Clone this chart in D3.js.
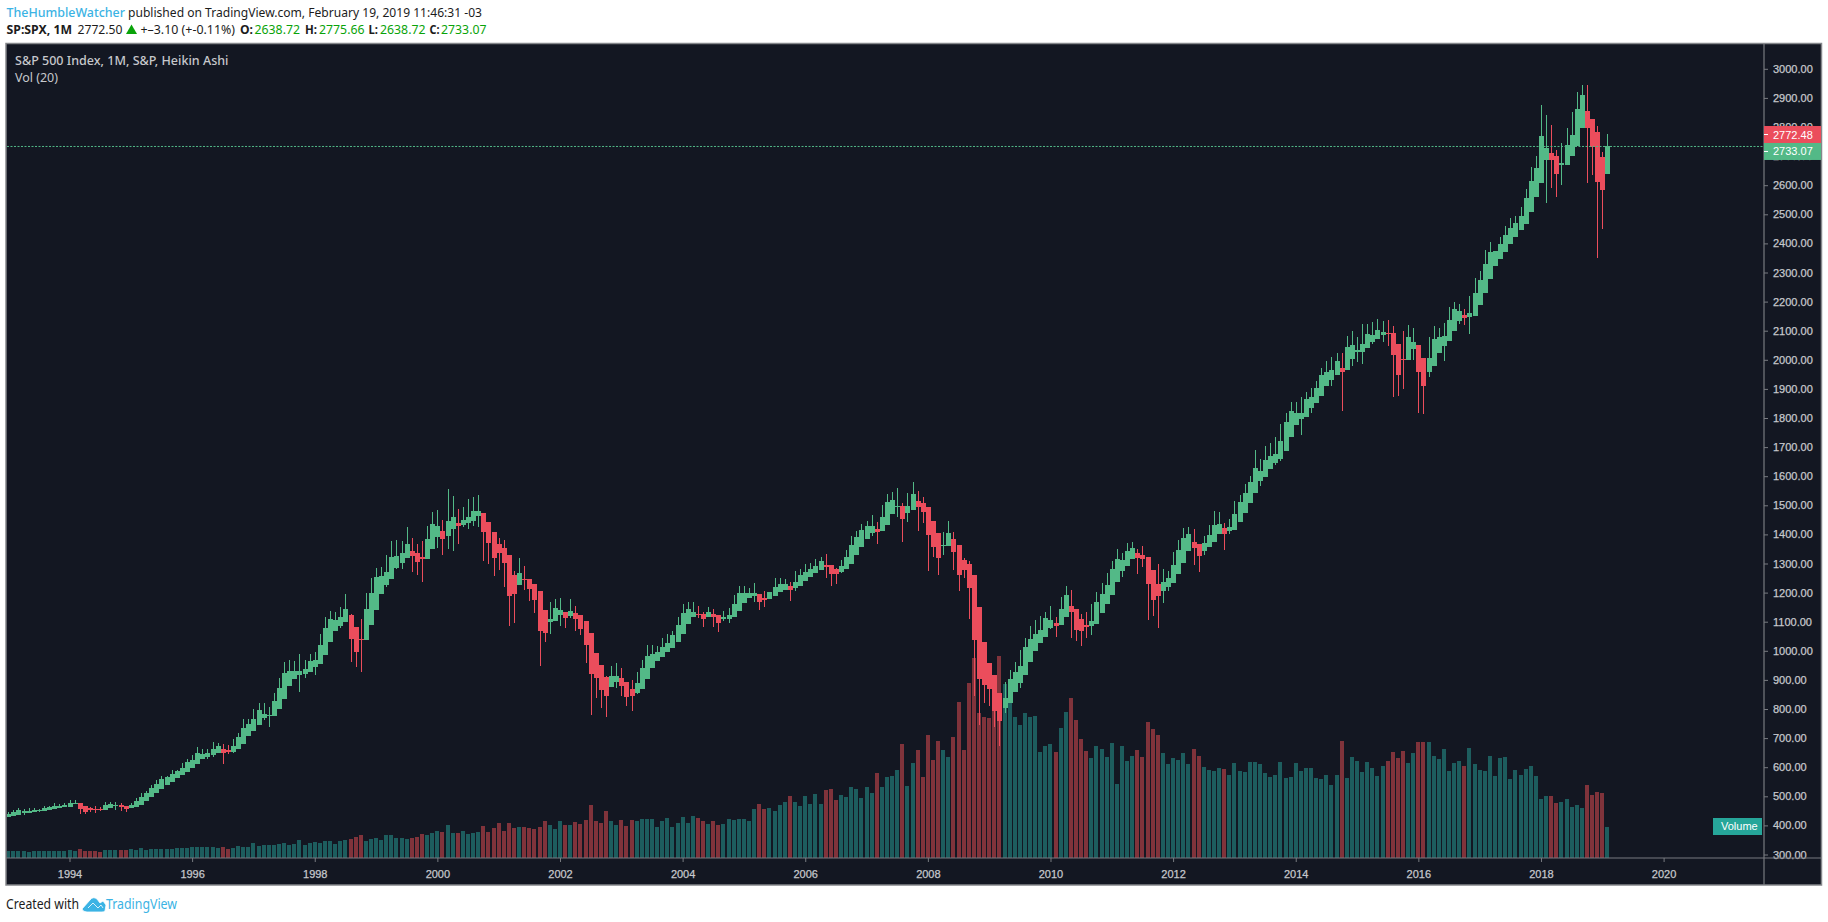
<!DOCTYPE html>
<html><head><meta charset="utf-8">
<script src="https://cdn.jsdelivr.net/npm/d3@7/dist/d3.min.js"></script>
<style>html,body{margin:0;padding:0;background:#fff;overflow:hidden}svg{display:block}</style>
</head><body><svg id="c" width="1828" height="922"></svg>
<script>
const firstMonth = [1993, 0];
const opens = [
429,433,436,443,443,446,449,450,453,457,460,463,
463,472,477,467,460,457,457,453,460,467,470,467,
460,463,470,484,498,512,525,539,549,563,573,584,
598,611,628,635,642,649,663,659,652,663,680,707,
725,745,769,776,776,800,835,879,903,917,920,927,
945,955,986,1031,1068,1085,1099,1123,1082,1041,1037,1089,
1140,1195,1226,1247,1285,1302,1319,1343,1336,1323,1316,1350,
1391,1412,1395,1419,1439,1433,1439,1446,1463,1474,1443,1408,
1367,1353,1329,1261,1226,1247,1247,1230,1206,1140,1099,1103,
1123,1134,1120,1130,1123,1103,1061,993,951,910,876,893,
907,893,869,855,869,903,941,965,979,996,1010,1031,
1058,1092,1116,1127,1127,1116,1127,1123,1110,1110,1116,1137,
1164,1182,1189,1195,1182,1178,1189,1202,1209,1223,1216,1223,
1240,1254,1268,1278,1295,1295,1281,1271,1281,1299,1329,1357,
1384,1405,1419,1412,1433,1470,1494,1498,1474,1484,1515,1508,
1494,1446,1405,1360,1360,1384,1364,1312,1299,1261,1151,1031,
958,917,855,804,821,859,890,917,962,1000,1027,1048,
1079,1096,1089,1116,1154,1143,1109,1089,1085,1092,1130,1161,
1192,1237,1274,1292,1316,1336,1329,1323,1278,1230,1206,1219,
1233,1264,1302,1343,1374,1367,1343,1357,1374,1402,1422,1412,
1415,1443,1474,1508,1542,1584,1597,1625,1646,1659,1687,1735,
1776,1797,1804,1834,1852,1876,1910,1931,1948,1972,1965,2003,
2027,2027,2041,2061,2072,2085,2092,2092,2054,2003,1999,2037,
2051,2006,1958,1979,2023,2048,2065,2099,2133,2154,2147,2151,
2188,2230,2278,2322,2346,2371,2398,2422,2446,2467,2508,2560,
2608,2687,2711,2700,2670,2670,2700,2735,2797,2855,2827,2783,
2697,2638.72];
const closes = [
439,445,453,451,451,453,454,460,463,467,468,470,
477,477,457,446,453,454,454,470,474,470,463,457,
470,484,498,512,529,542,560,566,577,587,598,618,
625,649,646,649,663,673,649,652,673,704,735,749,
766,797,783,780,828,872,924,931,931,931,938,965,
969,1020,1079,1110,1106,1116,1144,1041,996,1037,1144,1199,
1254,1257,1271,1323,1326,1336,1367,1326,1305,1316,1384,1436,
1429,1384,1446,1460,1429,1450,1460,1481,1481,1408,1371,1319,
1336,1302,1189,1195,1268,1244,1213,1175,1068,1061,1110,1147,
1140,1113,1137,1110,1075,1020,920,907,866,845,914,914,
879,841,845,890,941,982,989,996,1013,1027,1055,1089,
1130,1144,1134,1123,1110,1134,1116,1096,1116,1123,1161,1199,
1199,1199,1199,1168,1175,1202,1219,1230,1230,1209,1237,1261,
1271,1281,1292,1309,1288,1264,1264,1292,1323,1364,1391,1415,
1429,1429,1408,1460,1512,1518,1498,1453,1498,1539,1494,1477,
1398,1357,1319,1364,1405,1340,1261,1278,1216,1037,903,883,
869,793,759,838,903,927,948,1013,1041,1058,1072,1113,
1106,1085,1144,1192,1134,1072,1068,1082,1103,1168,1195,1226,
1281,1316,1312,1343,1353,1319,1316,1230,1175,1189,1237,1250,
1295,1347,1388,1402,1353,1326,1371,1398,1432,1436,1402,1426,
1470,1511,1542,1580,1628,1618,1656,1670,1676,1721,1786,1824,
1817,1817,1865,1872,1903,1948,1958,1965,1996,1958,2044,2051,
2034,2054,2089,2085,2103,2096,2089,2017,1948,1999,2078,2061,
1958,1910,2006,2072,2078,2082,2137,2175,2168,2144,2161,2230,
2274,2329,2371,2374,2398,2429,2453,2470,2494,2556,2615,2659,
2769,2728,2687,2639,2676,2738,2773,2862,2910,2797,2731,2611,
2584,2733.07];
const highs = [
446,452,460,455,459,460,458,467,467,476,474,477,
488,488,477,467,463,467,463,481,481,481,477,467,
477,494,512,518,539,556,570,570,591,591,615,628,
642,670,663,663,687,683,680,676,697,718,766,766,
800,821,821,807,855,907,962,969,965,989,969,989,
996,1058,1116,1137,1134,1151,1195,1127,1082,1110,1199,1250,
1285,1288,1329,1378,1381,1378,1426,1388,1367,1378,1429,1477,
1484,1450,1556,1532,1488,1494,1522,1529,1536,1474,1443,1408,
1388,1381,1329,1274,1319,1292,1247,1230,1206,1140,1168,1178,
1182,1134,1178,1154,1123,1103,1061,993,951,914,948,958,
941,893,900,927,969,1020,1020,1017,1044,1058,1068,1116,
1161,1168,1168,1154,1134,1151,1144,1123,1137,1147,1192,1223,
1223,1216,1233,1195,1206,1202,1250,1250,1247,1237,1274,1281,
1299,1302,1316,1323,1333,1295,1285,1312,1347,1395,1412,1436,
1446,1467,1443,1501,1539,1546,1560,1508,1542,1580,1549,1529,
1494,1446,1405,1408,1446,1408,1364,1319,1309,1261,1151,1031,
958,917,855,893,934,962,1003,1044,1085,1106,1120,1134,
1154,1116,1185,1223,1209,1143,1127,1134,1161,1202,1233,1267,
1309,1350,1336,1371,1374,1350,1360,1323,1278,1298,1281,1274,
1340,1381,1422,1426,1419,1367,1395,1432,1481,1477,1439,1453,
1515,1536,1573,1601,1690,1659,1704,1714,1735,1780,1817,1855,
1855,1871,1889,1903,1927,1972,1996,2010,2023,2023,2082,2099,
2079,2123,2123,2130,2140,2133,2137,2116,2054,2099,2120,2109,
2051,2006,2078,2116,2109,2127,2182,2199,2192,2175,2219,2281,
2305,2377,2405,2374,2422,2460,2487,2494,2525,2587,2663,2700,
2876,2841,2807,2721,2745,2797,2852,2920,2944,2944,2827,2803,
2714,2775.66];
const lows = [
429,433,436,436,443,446,445,450,453,457,460,463,
463,472,439,439,446,443,450,453,460,453,450,446,
460,463,470,484,498,512,525,539,549,563,573,584,
598,611,628,628,635,649,611,646,649,663,680,707,
725,745,762,738,776,800,835,879,903,859,907,927,
917,955,986,1031,1068,1079,1099,962,945,927,1037,1089,
1140,1195,1219,1247,1281,1281,1319,1271,1261,1237,1316,1350,
1353,1329,1350,1343,1367,1426,1419,1429,1426,1309,1299,1257,
1278,1219,1085,1096,1226,1209,1171,1130,948,1031,1058,1103,
1085,1079,1113,1068,1055,958,780,838,804,773,876,872,
845,811,793,852,869,903,941,965,979,996,1010,1031,
1058,1092,1116,1113,1082,1116,1082,1065,1103,1096,1116,1137,
1164,1182,1168,1140,1151,1178,1189,1202,1209,1171,1206,1223,
1240,1254,1268,1278,1250,1223,1230,1268,1281,1299,1329,1357,
1384,1395,1367,1412,1433,1470,1460,1374,1443,1484,1412,1439,
1274,1323,1261,1329,1360,1278,1206,1250,1110,845,745,821,
811,738,673,786,821,859,872,917,962,1000,1027,1048,
1075,1048,1089,1116,1044,1034,1017,1044,1055,1092,1130,1161,
1192,1237,1254,1292,1316,1264,1288,1106,1120,1078,1164,1206,
1233,1264,1302,1343,1295,1271,1329,1357,1374,1402,1347,1402,
1415,1443,1474,1508,1542,1566,1597,1625,1639,1652,1687,1735,
1776,1742,1804,1817,1852,1876,1910,1910,1948,1824,1965,1979,
1993,1986,2041,2054,2072,2061,2048,1872,1876,1900,1999,1999,
1817,1814,1941,1979,2023,1996,2065,2099,2123,2120,2089,2151,
2188,2230,2278,2322,2346,2371,2398,2422,2446,2467,2508,2560,
2608,2539,2590,2560,2601,2670,2700,2735,2797,2608,2635,2350,
2449,2638.72];
const volumes = [
7,7,7,7,6,7,7,7,7,7,7,7,
8,7,9,7,7,7,6,8,8,8,8,8,
9,8,10,8,9,9,9,9,9,10,10,10,
11,11,11,11,11,10,11,9,10,12,11,11,
15,12,13,13,13,14,15,13,14,18,13,15,
16,15,17,17,14,17,18,19,21,23,17,19,
20,18,23,23,20,20,19,20,21,24,23,25,
27,26,33,25,25,27,24,25,26,32,26,30,
35,27,35,30,31,31,30,29,31,37,33,29,
37,33,33,36,34,38,53,37,35,47,37,33,
38,32,38,37,39,39,39,31,37,40,31,35,
41,35,42,40,37,34,37,33,34,39,38,39,
39,37,49,54,49,50,47,53,56,62,56,52,
62,54,64,54,68,69,58,63,61,71,69,60,
71,65,85,71,81,82,88,114,72,95,108,81,
123,98,117,108,101,121,156,108,175,200,145,141,
140,147,202,174,155,141,133,145,141,142,106,112,
114,106,130,146,160,138,119,107,100,112,109,101,
115,74,112,97,102,108,101,136,129,123,105,94,
100,98,105,94,109,102,91,88,87,90,89,83,
95,87,86,96,96,94,85,81,83,96,80,81,
95,87,90,90,80,79,83,73,83,117,80,101,
97,86,96,90,82,92,97,106,100,107,95,105,
116,116,116,102,99,109,87,95,97,92,110,94,
88,87,102,82,100,101,79,88,83,89,92,82,
59,62,62,55,56,59,51,53,50,73,63,66,
65,31];
const priceTicks = d3.range(300, 3001, 100);
const yearTicks = [1994,1996,1998,2000,2002,2004,2006,2008,2010,2012,2014,2016,2018,2020];
const lastPriceTag = 2772.48, lastCloseTag = 2733.07;

const C = {bg:'#131722',up:'#53b987',down:'#eb4d5c',volUp:'#1d5d5e',volDown:'#80333b',axis:'#787b80',frame:'#85878b',txt:'#c6c8cc',blue:'#3bb3e4',val:'#09a309'};
const monthIdx = (y,m)=>(y-firstMonth[0])*12+(m-firstMonth[1]);
const x = d3.scaleLinear().domain([monthIdx(1994,0),monthIdx(2020,0)]).range([69.5,1663.6]);
const y = d3.scaleLinear().domain([300,3000]).range([854.5,68.8]);
const v = d3.scaleLinear().domain([0,200]).range([858,658]);
const svg = d3.select('#c');
const bars = opens.map((o,i)=>({i,o,c:closes[i],h:highs[i],l:lows[i],v:volumes[i],up:closes[i]>=o}));

svg.append('rect').attr('x',6).attr('y',43.5).attr('width',1815.5).attr('height',841.5).attr('fill',C.bg).attr('stroke',C.frame).attr('stroke-width',1.5);

const FONT='"Liberation Sans",Arial,sans-serif', UI='"Noto Sans","Open Sans",sans-serif';
const clip = svg.append('defs').append('clipPath').attr('id','pane').append('rect').attr('x',7).attr('y',44).attr('width',1757).attr('height',814);
const pane = svg.append('g').attr('clip-path','url(#pane)').attr('shape-rendering','crispEdges');

pane.append('g').selectAll('rect').data(bars).join('rect')
  .attr('x',d=>Math.round(x(d.i))-2).attr('width',4)
  .attr('y',d=>v(d.v)).attr('height',d=>v(0)-v(d.v))
  .attr('fill',d=>d.up?C.volUp:C.volDown);

pane.append('g').selectAll('line').data(bars).join('line')
  .attr('x1',d=>Math.round(x(d.i))+.5).attr('x2',d=>Math.round(x(d.i))+.5)
  .attr('y1',d=>y(d.h)).attr('y2',d=>y(d.l))
  .attr('stroke',d=>d.up?C.up:C.down).attr('stroke-width',1);

pane.append('g').selectAll('rect').data(bars).join('rect')
  .attr('x',d=>Math.round(x(d.i))-2).attr('width',5)
  .attr('y',d=>y(Math.max(d.o,d.c)))
  .attr('height',d=>Math.max(1,Math.abs(y(d.o)-y(d.c))))
  .attr('fill',d=>d.up?C.up:C.down);

svg.append('line').attr('x1',7).attr('x2',1764).attr('y1',y(lastCloseTag)).attr('y2',y(lastCloseTag))
  .attr('stroke',C.up).attr('stroke-width',1).attr('stroke-dasharray','2 1.5');

// axes
const priceAxis = d3.axisRight(y).tickValues(priceTicks).tickFormat(d3.format('.2f')).tickSize(4).tickPadding(5);
const gy = svg.append('g').attr('transform','translate(1764,0)').call(priceAxis);
const timeAxis = d3.axisBottom(x).tickValues(yearTicks.map(t=>monthIdx(t,0))).tickFormat(d=>firstMonth[0]+Math.round(d/12)).tickSize(4).tickPadding(8);
const gx = svg.append('g').attr('transform','translate(0,858)').call(timeAxis);
[gy,gx].forEach(g=>{g.select('.domain').remove();
  g.selectAll('.tick line').attr('stroke',C.axis);
  g.selectAll('.tick text').attr('fill',C.txt).style('font',`11px ${FONT}`).attr('stroke',C.txt).attr('stroke-width',.25);
});
svg.append('line').attr('x1',6).attr('x2',1821).attr('y1',858).attr('y2',858).attr('stroke',C.axis).attr('stroke-width',1.2);
svg.append('line').attr('x1',1764).attr('x2',1764).attr('y1',44).attr('y2',885).attr('stroke',C.axis).attr('stroke-width',1.2);

// price tags
function tag(label,cy,fill){
  svg.append('rect').attr('x',1764).attr('y',cy-8.5).attr('width',57).attr('height',17).attr('fill',fill);
  svg.append('line').attr('x1',1764).attr('x2',1768).attr('y1',cy).attr('y2',cy).attr('stroke','#fff');
  svg.append('text').attr('x',1773).attr('y',cy+4).attr('fill','#fff').style('font',`11px ${FONT}`).text(label);
}
tag(d3.format('.2f')(lastPriceTag),y(lastPriceTag)-.5,C.down);
tag(d3.format('.2f')(lastCloseTag),y(lastCloseTag)+5,C.up);
svg.append('rect').attr('x',1713).attr('y',818).attr('width',49).attr('height',17).attr('fill','#26a69a');
svg.append('text').attr('x',1721).attr('y',830).attr('fill','#fff').style('font',`11px ${FONT}`).text('Volume');

// texts
function t(str,xx,yy,w,o={}){
  return svg.append('text').attr('x',xx).attr('y',yy).attr('textLength',w).attr('lengthAdjust','spacingAndGlyphs')
    .attr('fill',o.fill||'#1c1c1c').style('font',`${o.weight||400} ${o.size||13}px ${UI}`).text(str);
}
t('TheHumbleWatcher',6.5,17,118.5,{fill:C.blue,weight:500});
t('published on TradingView.com, February 19, 2019 11:46:31 -03',128,17,354);
t('SP:SPX, 1M',6.5,34,65.5,{weight:700});
t('2772.50',77.5,34,45);
svg.append('path').attr('d','M126 34 L131.5 24.5 L137 34 Z').attr('fill',C.val);
t('+–3.10 (+-0.11%)',140.5,34,94.5);
[['O:',240,13,'2638.72',254.5],['H:',305,12,'2775.66',319],['L:',368.5,9.5,'2638.72',380],['C:',429.5,10,'2733.07',441]].forEach(([a,ax,aw,b,bx])=>{
  t(a,ax,34,aw,{weight:700}); t(b,bx,34,45.5,{fill:C.val});
});
t('S&P 500 Index, 1M, S&P, Heikin Ashi',15,65,213.5,{fill:C.txt,weight:500});
t('Vol (20)',15,82,43,{fill:C.txt});
t('Created with',6,909,73,{size:13.5});
t('TradingView',106,909,71,{fill:C.blue,size:13.5});
svg.append('path').attr('d','M82 909 L90 900 Q93 896 97 899 L100 903 L103 901 L106 905 L105 911 Q104 912 102 912 L87 912 Q83 912 82 909 Z M88 908 L93 903 L98 908 L101 905 L103 908')
  .attr('fill',C.blue).attr('stroke','#fff').attr('stroke-width',.8);
</script></body></html>
